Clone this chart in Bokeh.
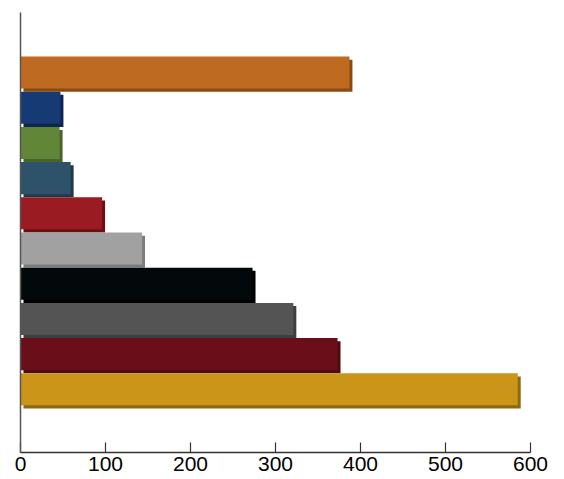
from bokeh.plotting import figure
from bokeh.models import ColumnDataSource, FixedTicker, Range1d
from bokeh.embed import file_html
from bokeh.resources import INLINE

# Data (bottom bar first)
values = [585, 373, 321, 273, 143, 96, 59, 46, 47, 387]
front_colors = ["#CB951A", "#6A0F19", "#545454", "#03080A", "#A1A1A1",
                "#9B1B22", "#2D5269", "#618638", "#163A74", "#BE6B21"]
edge_colors = ["#8E6A0E", "#4C0A11", "#3E3E3E", "#000000", "#7D7D7D",
               "#6D1015", "#1F3B4C", "#47652A", "#0E2552", "#8A4A12"]
x_ticks = [0, 100, 200, 300, 400, 500, 600]

positions = list(range(len(values)))
dx = 3.5    # depth in x units (~3 px)
dy = 0.09   # depth in y units (~3 px)

src = ColumnDataSource(dict(
    y=positions,
    v=values,
    front_left=[0] * len(values),
    front_right=values,
    front_top=[p + 0.5 for p in positions],
    front_bottom=[p - 0.5 + dy for p in positions],
    edge_left=[dx] * len(values),
    edge_right=[v + dx for v in values],
    edge_top=[p + 0.5 - dy for p in positions],
    edge_bottom=[p - 0.5 for p in positions],
    fc=front_colors,
    ec=edge_colors,
))

p = figure(width=564, height=479, output_backend="svg", toolbar_location=None,
           x_range=Range1d(0, 600), y_range=Range1d(-1.75, 10.75),
           min_border_left=20, min_border_right=34, min_border_top=12,
           min_border_bottom=27)
p.outline_line_color = None
p.background_fill_color = "white"
p.border_fill_color = "white"
p.xgrid.grid_line_color = None
p.ygrid.grid_line_color = None

p.quad(left="edge_left", right="edge_right", top="edge_top", bottom="edge_bottom",
       fill_color="ec", line_color=None, source=src)
p.quad(left="front_left", right="front_right", top="front_top", bottom="front_bottom",
       fill_color="fc", line_color=None, source=src)

xa = p.xaxis[0]
xa.ticker = FixedTicker(ticks=x_ticks)
xa.minor_tick_line_color = None
xa.major_tick_in = 10
xa.major_tick_out = 0
xa.major_tick_line_color = "#333333"
xa.major_tick_line_width = 1.2
xa.axis_line_color = "#333333"
xa.axis_line_width = 1.5
xa.major_label_text_font = "Liberation Sans"
xa.major_label_text_font_size = "21px"
xa.major_label_text_color = "#000000"
xa.major_label_standoff = 4

ya = p.yaxis[0]
ya.ticker = FixedTicker(ticks=[])
ya.minor_tick_line_color = None
ya.major_tick_line_color = None
ya.major_label_text_font_size = "0px"
ya.axis_line_color = "#555555"
ya.axis_line_width = 1.5

open("out.html", "w").write(file_html(p, INLINE))
